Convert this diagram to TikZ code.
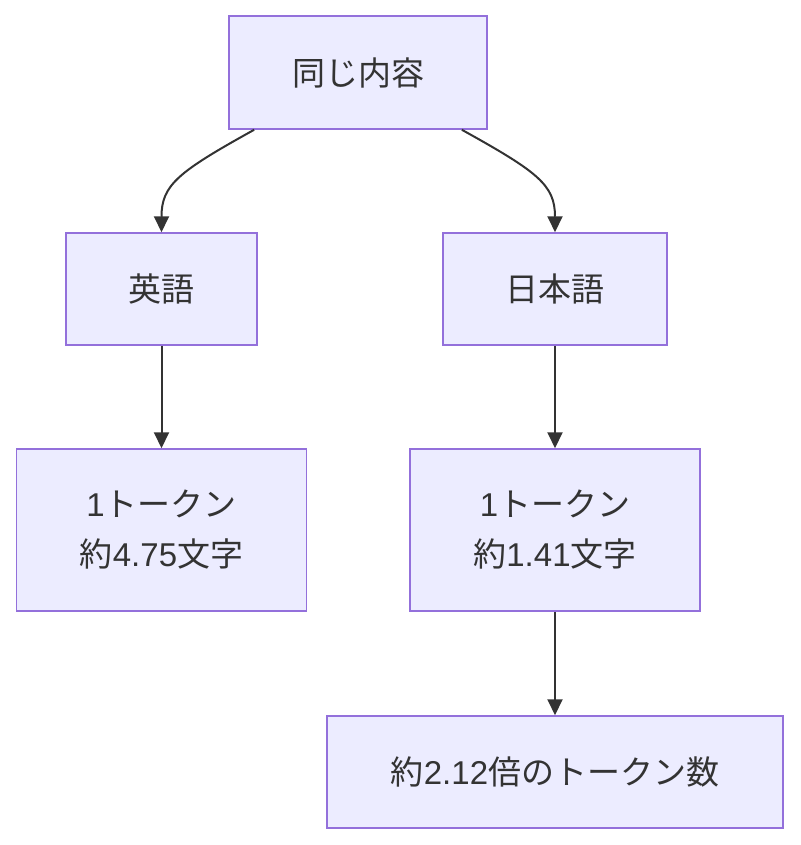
\documentclass[tikz,border=0pt]{standalone}
\usepackage{fontspec}
\setmainfont{Liberation Sans}
\newfontfamily\jp{Noto Sans CJK JP}
\usetikzlibrary{arrows.meta,calc}
\definecolor{nodefill}{HTML}{ECECFF}
\definecolor{nodeline}{HTML}{9370DB}
\definecolor{edgecol}{HTML}{333333}
\definecolor{textcol}{HTML}{333333}
\begin{document}
\begin{tikzpicture}[x=1pt,y=-1pt,
  box/.style={draw=nodeline,fill=nodefill,line width=1.5pt,inner sep=0pt,
    text=textcol,align=center,font=\fontsize{33}{50}\selectfont},
  conn/.style={draw=edgecol,line width=2pt,-{Triangle[length=16pt,width=15pt]}}]
\path[use as bounding box] (0,0) rectangle (800,845);
\node[box,minimum width=258pt,minimum height=113pt] (top) at (358,72.5) {\jp 同じ内容};
\node[box,minimum width=191pt,minimum height=112pt] (en) at (161.5,289) {\jp 英語};
\node[box,minimum width=224pt,minimum height=112pt] (ja) at (555,289) {\jp 日本語};
\node[box,minimum width=290pt,minimum height=162pt] (ent) at (161.5,530) {1{\jp トークン}\\{\jp 約}4.75{\jp 文字}};
\node[box,minimum width=290pt,minimum height=162pt] (jat) at (555,530) {1{\jp トークン}\\{\jp 約}1.41{\jp 文字}};
\node[box,minimum width=456pt,minimum height=112pt] (ratio) at (555,772) {{\jp 約}2.12{\jp 倍のトークン数}};
\draw[conn] ($(top.south west)!0.1!(top.south east)$) .. controls (178,172) and (161.5,185) .. (en.north);
\draw[conn] ($(top.south west)!0.9!(top.south east)$) .. controls (538,172) and (555,185) .. (ja.north);
\draw[conn] (en.south) -- (ent.north);
\draw[conn] (ja.south) -- (jat.north);
\draw[conn] (jat.south) -- (ratio.north);
\end{tikzpicture}
\end{document}
